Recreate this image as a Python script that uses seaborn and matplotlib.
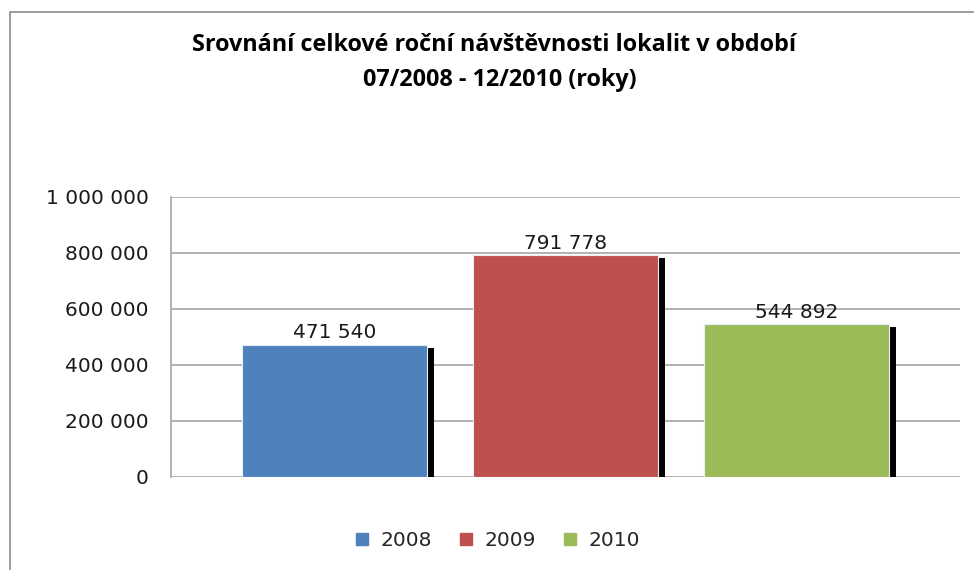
import matplotlib
matplotlib.use("Agg")
import matplotlib.pyplot as plt
import matplotlib.patches as mpatches
import matplotlib.transforms as mtransforms
from matplotlib.lines import Line2D
import seaborn as sns
import pandas as pd

# data
years = ["2008", "2009", "2010"]
visits = [471540, 791778, 544892]
colors = ["#4F81BD", "#C0504D", "#9BBB59"]
y_ticks = [0, 200000, 400000, 600000, 800000, 1000000]

df = pd.DataFrame({"cat": [""] * len(years), "rok": years, "navstevnost": visits})

sns.set_theme(style="white")
plt.rcParams["font.family"] = ["DejaVu Sans"]

fig = plt.figure(figsize=(9.74, 5.70), dpi=100)
W, H = 974, 570
ax = fig.add_axes([171 / W, (H - 477) / H, 789 / W, 280 / H])

sns.barplot(data=df, x="cat", y="navstevnost", hue="rok", palette=colors,
            saturation=1, width=0.878, gap=0.2, legend=False, ax=ax,
            edgecolor="#E8EEF6", linewidth=0.8, zorder=3)

# black drop shadow behind each bar
offset = mtransforms.ScaledTranslation(7 / 100, -3 / 100, fig.dpi_scale_trans)
for bar in list(ax.patches):
    sh = mpatches.Rectangle(bar.get_xy(), bar.get_width(), bar.get_height(),
                            facecolor="black", edgecolor="none",
                            transform=ax.transData + offset, zorder=2)
    ax.add_patch(sh)

for cont in ax.containers:
    ax.bar_label(cont, labels=[f"{v:,.0f}".replace(",", " ") for v in cont.datavalues],
                 padding=2, fontsize=14.5, color="#1a1a1a")

ax.set_xlim(-0.5, 0.5)
ax.set_ylim(0, 1000000)
ax.set_yticks(y_ticks)
ax.set_yticklabels([f"{t:,}".replace(",", " ") for t in y_ticks], fontsize=14.5, color="#1a1a1a")
ax.tick_params(axis="y", length=0, pad=16)
ax.set_xticks([])
ax.set_xlabel("")
ax.set_ylabel("")
ax.yaxis.grid(True, color="#A6A6A6", linewidth=1.2, zorder=0)
ax.set_axisbelow(True)
for side in ["top", "right", "bottom"]:
    ax.spines[side].set_visible(False)
ax.spines["left"].set_color("#A6A6A6")
ax.spines["left"].set_linewidth(1.2)
ax.spines["left"].set_zorder(1)

title_font = dict(fontsize=16.8, fontweight="bold", family=["Open Sans", "DejaVu Sans"],
                  color="black", va="center", ha="center")
fig.text(494 / W, 1 - 45 / H, "Srovnání celkové roční návštěvnosti lokalit v období", **title_font)
fig.text(500 / W, 1 - 80 / H, "07/2008 - 12/2010 (roky)", **title_font)

handles = [Line2D([], [], marker="s", linestyle="none", markersize=8.5,
                  markerfacecolor=c, markeredgecolor=c) for c in colors]
fig.legend(handles, years, loc="center", bbox_to_anchor=(497 / W, 1 - 541 / H),
           ncol=3, frameon=False, fontsize=14.5, handletextpad=0.5,
           columnspacing=1.3, handlelength=0.8, handleheight=0.8)

# outer chart border (runs off the right and bottom of the image)
border = mpatches.Rectangle((10 / W, -0.1), 1.2, 1 - 12 / H + 0.1, transform=fig.transFigure,
                            fill=False, edgecolor="#8C8C8C", linewidth=1.2)
fig.patches.append(border)

fig.savefig("out.png", dpi=100)
